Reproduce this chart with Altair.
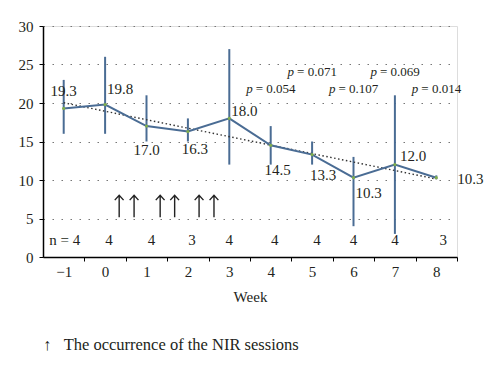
import altair as alt
import pandas as pd

# ---- data ----
weeks = [-1, 0, 1, 2, 3, 4, 5, 6, 7, 8]
means = [19.3, 19.8, 17.0, 16.3, 18.0, 14.5, 13.3, 10.3, 12.0, 10.3]
err_low = [16.0, 16.0, 15.0, 15.0, 12.0, 12.0, 12.0, 4.0, 3.0, 10.1]
err_high = [23.0, 26.0, 21.0, 18.0, 27.0, 17.0, 15.0, 13.0, 21.0, 10.6]
value_labels = ["19.3", "19.8", "17.0", "16.3", "18.0", "14.5", "13.3", "10.3", "12.0", "10.3"]
n_labels = ["n = 4", "4", "4", "3", "4", "4", "4", "4", "4", "3"]
n_level = 2.2

p_weeks = [4, 5, 6, 7, 8]
p_values = ["0.054", "0.071", "0.107", "0.069", "0.014"]
p_levels = [21.8, 24.0, 21.8, 24.0, 21.8]

session_weeks = [0.34, 0.70, 1.33, 1.68, 2.27, 2.63]
session_level = 6.6

x_ticks = [-1, 0, 1, 2, 3, 4, 5, 6, 7, 8]
y_ticks = [0, 5, 10, 15, 20, 25, 30]

# label offsets (pixels) - layout only
label_dx = [0, 2, 0, 7, 2, 7, 11, 2, 5, 21]
label_dy = [-17, -16, 24, 18, -7, 25, 20, 15, -9, 1]
label_align = ["center", "left", "center", "center", "left", "center", "center", "left", "left", "left"]
n_dx = [1, 4, 5, 4, 0, 4, 5, 0, 0, 7]

FONT = "Liberation Serif"
BLUE = "#4a6c94"
TXT = "#231f20"
W, H = 414, 231
HALF_BAND = W / 10 / 2

df = pd.DataFrame({"week": weeks, "mean": means, "lo": err_low, "hi": err_high,
                   "label": value_labels, "n": n_labels})
df["nlev"] = n_level
pdf = pd.DataFrame({"week": p_weeks, "p": p_values, "lev": p_levels})
pdf["eq"] = "= " + pdf["p"]
sdf = pd.DataFrame({"week": session_weeks})
sdf["lev"] = session_level

x_scale = alt.Scale(domain=[-1.5, 8.5], nice=False, zero=False)
x_axis = alt.Axis(
    values=x_ticks,
    format="d",
    tickOffset=HALF_BAND,
    labelOffset=-HALF_BAND,
    labelOverlap=False,
    labelFlush=False,
    grid=False,
    title="Week",
    titleFont=FONT,
    titleFontSize=15,
    titleFontWeight="normal",
    titleColor=TXT,
    titlePadding=10,
    labelFont=FONT,
    labelFontSize=15,
    labelColor=TXT,
    labelPadding=3,
    tickSize=4,
    tickColor="#000",
    domainColor="#000",
    domainWidth=1.5,
)

y_scale = alt.Scale(domain=[0, 30], nice=False)
y_axis = alt.Axis(
    values=y_ticks,
    title=None,
    grid=True,
    gridColor="#777",
    gridDash=[1.5, 7.5],
    gridWidth=1.2,
    labelOverlap=False,
    labelFont=FONT,
    labelFontSize=15,
    labelColor=TXT,
    labelPadding=6,
    tickSize=4,
    tickColor="#000",
    domainColor="#000",
    domainWidth=1.5,
)


def X(field="week:Q"):
    return alt.X(field, scale=x_scale, axis=x_axis)


def Y(field):
    return alt.Y(field, scale=y_scale, axis=y_axis)


base = alt.Chart(df)

bars = base.mark_rule(color=BLUE, strokeWidth=2).encode(x=X(), y=Y("lo:Q"), y2="hi:Q")

line = base.mark_line(color=BLUE, strokeWidth=2).encode(x=X(), y=Y("mean:Q"))

trend = base.transform_regression("week", "mean").mark_line(
    color="#333", strokeWidth=1.4, strokeDash=[1.5, 2.5]).encode(x=X(), y=Y("mean:Q"))

pts = base.mark_point(filled=True, color="#7fae4e", size=10, opacity=1).encode(x=X(), y=Y("mean:Q"))

layers = [bars, trend, line, pts]

for i in range(len(weeks)):
    layers.append(
        alt.Chart(df.iloc[[i]]).mark_text(
            font=FONT, fontSize=15, color=TXT, align=label_align[i], baseline="middle",
            dx=label_dx[i], dy=label_dy[i]
        ).encode(x=X(), y=Y("mean:Q"), text="label:N")
    )
    layers.append(
        alt.Chart(df.iloc[[i]]).mark_text(
            font=FONT, fontSize=15, color=TXT, align="center", baseline="middle", dx=n_dx[i]
        ).encode(x=X(), y=Y("nlev:Q"), text="n:N")
    )

p_italic = alt.Chart(pdf).mark_text(
    font=FONT, fontSize=13, fontStyle="italic", color=TXT, align="left", baseline="middle", dx=-24.5
).encode(x=X(), y=Y("lev:Q"), text=alt.value("p"))
p_rest = alt.Chart(pdf).mark_text(
    font=FONT, fontSize=13, color=TXT, align="left", baseline="middle", dx=-15
).encode(x=X(), y=Y("lev:Q"), text="eq:N")

arrow_path = "M0,1L0,-1M-0.4,-0.55L0,-1L0.4,-0.55"
arrows = alt.Chart(sdf).mark_point(
    shape=arrow_path, filled=False, color="#222", strokeWidth=1.4, size=484, opacity=1
).encode(x=X(), y=Y("lev:Q"))

layers += [p_italic, p_rest, arrows]

chart = alt.layer(*layers).properties(
    width=W,
    height=H,
    autosize=alt.AutoSizeParams(type="none"),
    padding={"left": 35, "top": 18, "right": 35, "bottom": 100},
    title=alt.TitleParams(
        "\u2191\u00a0\u00a0\u00a0The occurrence of the NIR sessions",
        orient="bottom", anchor="start", frame="group",
        font=FONT, fontSize=16.5, fontWeight="normal", color=TXT, offset=33,
    ),
).configure_view(stroke=None).configure(background="white")

chart.save("out.html", embed_options={"renderer": "svg", "actions": False})
